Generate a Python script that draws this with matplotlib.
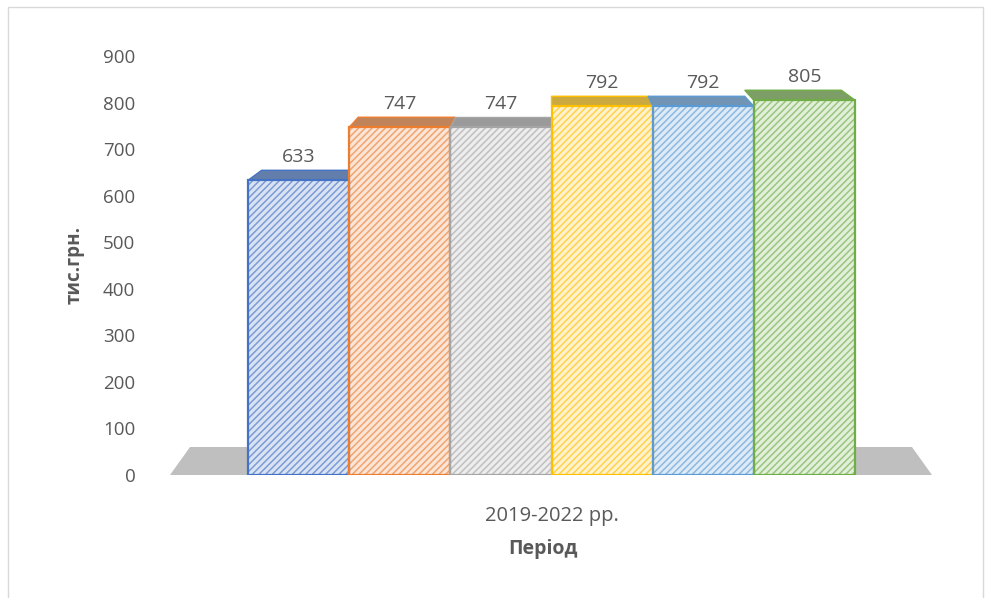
import numpy as np
import matplotlib
matplotlib.use("Agg")
import matplotlib.pyplot as plt
from matplotlib.patches import Polygon
from matplotlib.colors import to_rgb

plt.rcParams['font.family'] = ['Open Sans', 'DejaVu Sans']
plt.rcParams['hatch.linewidth'] = 1.1

###
### Data
###
values = [633, 747, 747, 792, 792, 805]
colors = ['#4472C4', '#ED7D31', '#A5A5A5', '#FFC000', '#5B9BD5', '#70AD47']
category = '2019-2022 рр.'
ylabel = 'тис.грн.'
xlabel = 'Період'
yticks = np.arange(0, 901, 100)

TXT = '#595959'

def mix(c1, c2, t):
    a = np.array(to_rgb(c1))
    b = np.array(to_rgb(c2))
    return tuple(a * t + b * (1 - t))

###
### Figure / axes
###
W, H = 985, 598
fig = plt.figure(figsize=(W / 100, H / 100), dpi=100)
ax = fig.add_axes([170 / W, (H - 475) / H, (932 - 170) / W, (475 - 56) / H])
ax.set_xlim(-1.271, 6.261)
ax.set_ylim(0, 900)
for s in ax.spines.values():
    s.set_visible(False)

px_y = 900 / 419.0   # data units per pixel (y)
k = 0.045            # perspective shrink towards centre
cx = 2.5

###
### Floor
###
floor = Polygon([(-1.271, 0), (-1.073, 28 * px_y), (6.063, 28 * px_y), (6.261, 0)],
                closed=True, facecolor='#BFBFBF', edgecolor='none', zorder=1, clip_on=False)
ax.add_patch(floor)

###
### Bars
###
x = np.arange(len(values))
depth = 10 * px_y
for xi, v, c in zip(x, values, colors):
    l, r = xi - 0.5, xi + 0.5
    top = Polygon([(l, v), (r, v),
                   (r + (cx - r) * k, v + depth), (l + (cx - l) * k, v + depth)],
                  closed=True, facecolor=mix(c, '#8C8C8C', 0.55),
                  edgecolor=c, linewidth=1.0, zorder=2, clip_on=False)
    ax.add_patch(top)

ax.bar(x, values, width=1.0, color=[mix(c, 'white', 0.2) for c in colors],
       edgecolor=[mix(c, 'white', 0.7) for c in colors], hatch='/////',
       linewidth=0, zorder=3)
ax.bar(x, values, width=1.0, fill=False, edgecolor=colors, linewidth=1.6, zorder=4)

for xi, v in zip(x, values):
    ax.annotate(str(v), (xi, v), xytext=(0, 17), textcoords='offset points',
                ha='center', va='center', fontsize=14, color=TXT, zorder=5)

###
### Ticks and labels
###
ax.set_yticks(yticks)
ax.set_yticklabels([str(t) for t in yticks])
ax.tick_params(axis='y', length=0, pad=25, labelsize=13.5, labelcolor=TXT)
ax.set_xticks([2.5])
ax.set_xticklabels([category])
ax.tick_params(axis='x', length=0, pad=22, labelsize=14.5, labelcolor=TXT)

fig.text(75 / W, 1 - 265 / H, ylabel, rotation=90, ha='center', va='center',
         fontsize=13.5, fontweight='bold', color=TXT)
fig.text(543 / W, 1 - 549 / H, xlabel, ha='center', va='center',
         fontsize=14, fontweight='bold', color=TXT)

###
### Chart border
###
border = plt.Rectangle((8 / W, -0.01), (983 - 8) / W, (H - 7) / H + 0.01,
                       transform=fig.transFigure, fill=False,
                       edgecolor='#D9D9D9', linewidth=1.0)
fig.patches.append(border)

fig.savefig('out.png', dpi=100)
